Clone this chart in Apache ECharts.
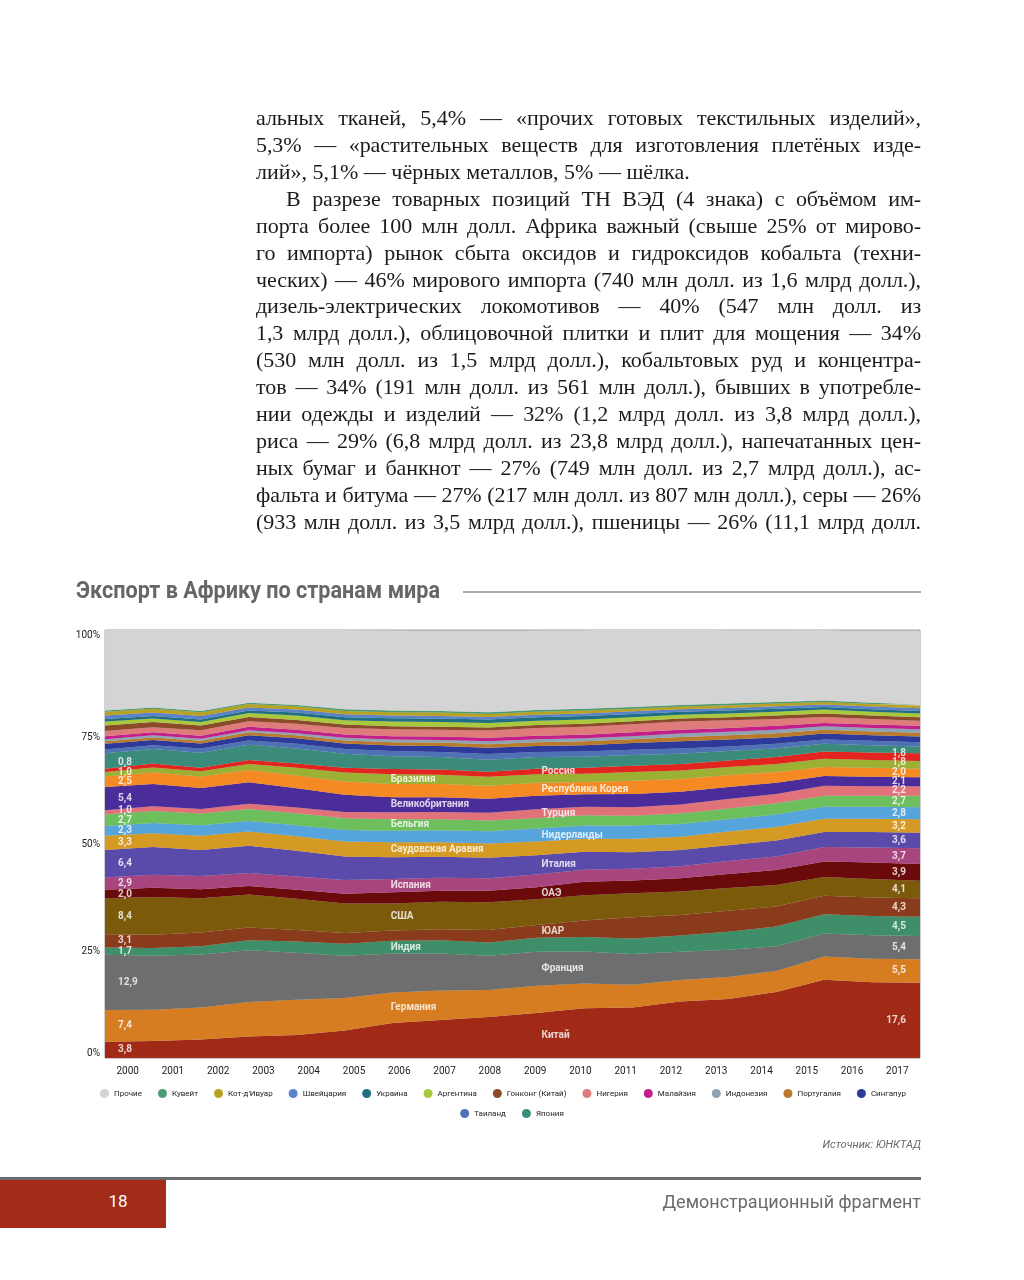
<!DOCTYPE html>
<html><head><meta charset="utf-8">
<script src="https://cdn.jsdelivr.net/npm/echarts@6/dist/echarts.min.js"></script>
<style>
html,body{margin:0;padding:0;background:#fff;}
#page{position:relative;width:1024px;height:1280px;overflow:hidden;background:#fff;}
#chart{position:absolute;left:0;top:0;width:1024px;height:1280px;}
.txt{position:absolute;left:256px;top:105px;width:665px;font-family:'Liberation Serif','DejaVu Serif',serif;font-size:22px;line-height:26.93px;color:#1b1b1b;z-index:2;}
.txt .j{text-align:justify;text-align-last:justify;height:26.93px;overflow:visible;}
.txt .l{text-align:left;height:26.93px;}
.txt .ind{padding-left:30px;}
.txt span{white-space:nowrap;}
#rule{position:absolute;left:0;top:1177px;width:921px;height:3px;background:#6b6b6b;z-index:2;}
#redbox{position:absolute;left:0;top:1180px;width:166px;height:48px;background:#a12b18;z-index:2;}
#pnum{position:absolute;left:103px;top:1191px;width:30px;text-align:center;font-family:Roboto,sans-serif;font-size:17px;color:#fff;z-index:3;}
#demo{position:absolute;right:103px;top:1191px;font-family:Roboto,sans-serif;font-size:18px;color:#6b6b6b;z-index:3;}
</style></head>
<body><div id="page">
<div id="chart"></div>
<div class="txt" id="txt">
<div class="j">альных тканей, 5,4% — «прочих готовых текстильных изделий»,</div>
<div class="j">5,3% — «растительных веществ для изготовления плетёных изде-</div>
<div class="l">лий», 5,1% — чёрных металлов, 5% — шёлка.</div>
<div class="j ind">В разрезе товарных позиций ТН ВЭД (4 знака) с объёмом им-</div>
<div class="j">порта более 100 млн долл. Африка важный (свыше 25% от мирово-</div>
<div class="j">го импорта) рынок сбыта оксидов и гидроксидов кобальта (техни-</div>
<div class="j">ческих) — 46% мирового импорта (740 млн долл. из 1,6 млрд долл.),</div>
<div class="j">дизель-электрических локомотивов — 40% (547 млн долл. из</div>
<div class="j">1,3 млрд долл.), облицовочной плитки и плит для мощения — 34%</div>
<div class="j">(530 млн долл. из 1,5 млрд долл.), кобальтовых руд и концентра-</div>
<div class="j">тов — 34% (191 млн долл. из 561 млн долл.), бывших в употребле-</div>
<div class="j">нии одежды и изделий — 32% (1,2 млрд долл. из 3,8 млрд долл.),</div>
<div class="j">риса — 29% (6,8 млрд долл. из 23,8 млрд долл.), напечатанных цен-</div>
<div class="j">ных бумаг и банкнот — 27% (749 млн долл. из 2,7 млрд долл.), ас-</div>
<div class="j">фальта и битума — 27% (217 млн долл. из 807 млн долл.), серы — 26%</div>
<div class="j">(933 млн долл. из 3,5 млрд долл.), пшеницы — 26% (11,1 млрд долл.</div>
</div>
<div id="rule"></div>
<div id="redbox"></div>
<div id="pnum">18</div>
<div id="demo">Демонстрационный фрагмент</div>
</div>
<script>
// fit each text line into the column width (tighten letter spacing if a line is too long)
(function(){
  const lines = document.querySelectorAll('#txt > div');
  lines.forEach(div => {
    const avail = div.clientWidth - (div.classList.contains('ind') ? 30 : 0);
    const span = document.createElement('span');
    span.textContent = div.textContent;
    div.textContent = '';
    div.appendChild(span);
    const w = span.getBoundingClientRect().width;
    const n = span.textContent.length;
    if (w > avail - 2) {
      div.style.letterSpacing = (-(w - avail + 4) / n).toFixed(3) + 'px';
    }
    div.textContent = span.textContent;
  });
})();

const years = ['2000','2001','2002','2003','2004','2005','2006','2007','2008','2009','2010','2011','2012','2013','2014','2015','2016','2017'];
const yTicks = [0,25,50,75,100];

const china       = [3.8,4.0,4.3,5.0,5.4,6.4,8.2,8.9,9.6,10.5,11.6,11.8,13.2,13.8,15.4,18.3,17.7,17.6];
const germany     = [7.4,7.3,7.5,8.1,8.2,7.6,7.1,6.9,6.3,6.4,5.8,5.3,5.0,5.1,4.9,5.4,5.5,5.5];
const france      = [12.9,12.6,12.4,12.1,11.0,9.9,9.1,8.6,8.0,7.9,7.5,7.2,6.6,6.4,5.8,5.4,5.5,5.4];
const india       = [1.7,1.8,1.9,2.3,2.6,2.8,3.0,3.1,3.1,3.3,3.4,3.6,3.8,4.2,4.6,4.5,4.5,4.5];
const southAfrica = [3.1,3.1,3.2,3.0,2.7,2.5,2.4,2.6,2.9,3.0,3.8,5.0,4.8,4.9,4.7,4.3,4.3,4.3];
const usa         = [8.4,8.8,8.0,7.7,7.3,6.9,6.3,6.4,6.5,6.0,5.9,5.6,5.5,5.3,5.0,4.4,4.3,4.1];
const uae         = [2.0,2.2,2.1,2.0,2.1,2.3,2.6,2.6,2.7,2.8,3.2,3.0,3.1,3.3,3.5,3.6,3.9,3.9];
const spain       = [2.9,3.0,3.1,3.0,3.1,3.2,3.1,3.0,2.9,3.0,2.8,2.7,2.8,3.0,3.2,3.4,3.5,3.7];
const italy       = [6.4,6.5,6.1,6.4,6.0,5.5,5.1,4.9,4.8,4.5,4.2,3.9,3.8,3.7,3.7,3.5,3.6,3.6];
const saudi       = [3.3,3.2,3.3,3.3,3.4,3.5,3.5,3.4,3.3,3.2,3.0,3.1,3.1,3.2,3.2,3.1,3.1,3.2];
const netherlands = [2.3,2.4,2.5,2.5,2.6,2.7,2.7,2.8,2.9,3.0,3.1,3.1,3.0,2.9,2.9,2.8,2.8,2.8];
const belgium     = [2.7,2.8,2.7,2.8,2.8,2.7,2.7,2.6,2.5,2.5,2.4,2.3,2.4,2.5,2.6,2.6,2.6,2.7];
const turkey      = [1.0,1.1,1.1,1.2,1.3,1.5,1.6,1.7,1.8,2.0,2.0,2.0,2.1,2.2,2.2,2.3,2.2,2.2];
const uk          = [5.4,5.2,4.9,5.0,4.5,4.0,3.5,3.4,3.3,3.2,2.9,3.1,3.0,2.8,2.6,2.3,2.2,2.1];
const korea       = [2.5,2.7,2.7,2.9,3.0,3.1,3.1,3.1,3.0,3.0,2.9,3.1,3.0,2.8,2.5,2.1,2.1,2.0];
const brazil      = [1.0,1.2,1.2,1.4,1.8,2.1,2.3,2.2,2.1,2.0,1.9,2.0,2.0,1.9,1.9,1.9,1.8,1.8];
const russia      = [0.8,0.9,0.8,0.9,1.0,1.1,1.2,1.2,1.2,1.3,1.4,1.5,1.5,1.5,1.6,1.7,1.8,1.8];
const japan       = [3.6,3.4,3.5,3.6,3.5,3.3,3.0,2.9,2.8,2.7,2.6,2.5,2.4,2.2,2.0,1.8,1.7,1.6];
const thailand    = [0.9,0.9,1.0,1.0,1.1,1.1,1.2,1.2,1.3,1.2,1.2,1.2,1.2,1.1,1.1,1.0,1.0,1.0];
const singapore   = [1.3,1.2,1.2,1.2,1.3,1.3,1.3,1.4,1.5,1.4,1.5,1.6,1.7,1.6,1.5,1.4,1.3,1.3];
const portugal    = [0.6,0.6,0.6,0.7,0.7,0.7,0.8,0.8,0.8,0.9,0.9,0.9,1.0,1.0,1.0,0.9,0.9,0.9];
const indonesia   = [0.5,0.5,0.5,0.5,0.5,0.6,0.6,0.6,0.7,0.7,0.7,0.7,0.8,0.8,0.8,0.8,0.8,0.8];
const malaysia    = [0.7,0.7,0.7,0.8,0.8,0.8,0.8,0.8,0.8,0.8,0.8,0.9,0.9,0.9,0.9,0.8,0.8,0.8];
const nigeria     = [1.2,1.2,1.3,1.3,1.4,1.5,1.6,1.6,1.7,1.8,1.9,1.9,1.9,1.8,1.6,1.4,1.3,1.2];
const hongKong    = [1.3,1.2,1.1,1.0,0.9,0.8,0.7,0.7,0.7,0.7,0.7,0.7,0.7,0.7,0.8,0.8,0.8,0.8];
const argentina   = [0.9,0.8,0.8,0.9,1.0,1.0,1.1,1.1,1.1,1.0,1.0,0.9,0.9,0.9,0.9,0.9,0.9,0.9];
const ukraine     = [0.6,0.6,0.6,0.6,0.7,0.7,0.8,0.8,0.8,0.8,0.8,0.8,0.7,0.7,0.7,0.6,0.6,0.6];
const switzerland = [0.8,0.8,0.8,0.7,0.7,0.7,0.6,0.6,0.6,0.6,0.6,0.6,0.6,0.6,0.6,0.6,0.6,0.6];
const coteDIvoire = [0.9,0.9,0.9,0.8,0.8,0.8,0.8,0.8,0.7,0.7,0.7,0.6,0.6,0.6,0.6,0.6,0.6,0.6];
const kuwait      = [0.3,0.3,0.3,0.3,0.3,0.4,0.4,0.4,0.4,0.4,0.4,0.4,0.4,0.4,0.4,0.3,0.3,0.3];
const others      = [18.9,18.5,18.9,17.0,17.5,18.5,18.6,18.6,18.6,18.5,18.3,18.7,17.9,17.1,16.7,16.5,16.4,17.0];

// bottom-to-top stacking order
const stackSeries = [
  ['Китай', china, '#a12a17'],
  ['Германия', germany, '#d67d22'],
  ['Франция', france, '#6e6e6e'],
  ['Индия', india, '#3e8e6a'],
  ['ЮАР', southAfrica, '#8a3b1b'],
  ['США', usa, '#7b5b0b'],
  ['ОАЭ', uae, '#6b0a0a'],
  ['Испания', spain, '#a8447e'],
  ['Италия', italy, '#5a4baa'],
  ['Саудовская Аравия', saudi, '#d59a24'],
  ['Нидерланды', netherlands, '#55a4dc'],
  ['Бельгия', belgium, '#6dbf5e'],
  ['Турция', turkey, '#e1727a'],
  ['Великобритания', uk, '#4a2c9a'],
  ['Республика Корея', korea, '#f58a24'],
  ['Бразилия', brazil, '#9cb033'],
  ['Россия', russia, '#e2261f'],
  ['Япония', japan, '#3a8b7a'],
  ['Таиланд', thailand, '#4f72b5'],
  ['Сингапур', singapore, '#2e3a9a'],
  ['Португалия', portugal, '#b97a2b'],
  ['Индонезия', indonesia, '#8ea3b3'],
  ['Малайзия', malaysia, '#c21f8b'],
  ['Нигерия', nigeria, '#e07b7b'],
  ['Гонконг (Китай)', hongKong, '#8b4a2a'],
  ['Аргентина', argentina, '#a9c83c'],
  ['Украина', ukraine, '#1f6f82'],
  ['Швейцария', switzerland, '#5c82c9'],
  ["Кот-д'Ивуар", coteDIvoire, '#b9a123'],
  ['Кувейт', kuwait, '#4c9c72'],
  ['Прочие', others, '#d4d4d4']
];
const labeledCount = 17;
const legendRow1 = ['Прочие','Кувейт',"Кот-д'Ивуар",'Швейцария','Украина','Аргентина','Гонконг (Китай)','Нигерия','Малайзия','Индонезия','Португалия','Сингапур'];
const legendRow2 = ['Таиланд','Япония'];
const leftNameIdx = [1,3,5,7,9,11,13,15];
const rightNameIdx = [0,2,4,6,8,10,12,14,16];
const leftNameYear = 6, rightNameYear = 9;
const minLabelGap = 2.2; // minimal vertical gap between stacked value labels, in axis units

function fmt(v){ return v.toFixed(1).replace('.', ','); }
function mid(k, t){ let s = 0; for (let j = 0; j < k; j++) s += stackSeries[j][1][t]; return s + stackSeries[k][1][t] / 2; }
// push labels upward so that they don't overlap (bottom to top)
function spread(t){
  const ys = []; let prev = -Infinity;
  for (let k = 0; k < labeledCount; k++) {
    let y = mid(k, t);
    if (y < prev + minLabelGap) y = prev + minLabelGap;
    ys.push(y); prev = y;
  }
  return ys;
}

const series = stackSeries.map(([name, data, color]) => ({
  name, type: 'line', stack: 'all', data, xAxisIndex: 0, yAxisIndex: 0,
  symbol: 'none', showSymbol: false, smooth: false,
  lineStyle: { width: 0 }, itemStyle: { color },
  areaStyle: { color, opacity: 1 }, z: 2, silent: true
}));

const lblFont = { color: '#fff', fontSize: 10, fontWeight: 'bold', fontFamily: 'Roboto, sans-serif' };
function labelSeries(items, pos, align){
  return { type: 'scatter', xAxisIndex: 0, yAxisIndex: 0, symbolSize: 0, silent: true, z: 10,
    data: items,
    label: Object.assign({ show: true, position: pos, align, verticalAlign: 'middle', formatter: '{b}' }, lblFont) };
}
const last = years.length - 1;
const leftY = spread(0), rightY = spread(last);
const leftVals = [], rightVals = [], leftNames = [], rightNames = [];
for (let k = 0; k < labeledCount; k++) {
  leftVals.push({ name: fmt(stackSeries[k][1][0]), value: [0, leftY[k]] });
  rightVals.push({ name: fmt(stackSeries[k][1][last]), value: [last, rightY[k]] });
}
leftNameIdx.forEach(k => leftNames.push({ name: stackSeries[k][0], value: [leftNameYear, mid(k, leftNameYear)] }));
rightNameIdx.forEach(k => rightNames.push({ name: stackSeries[k][0], value: [rightNameYear, mid(k, rightNameYear)] }));
series.push(labelSeries(leftVals, [13, 0], 'left'));
series.push(labelSeries(rightVals, [-14, 0], 'right'));
series.push(labelSeries(leftNames, [-2, 0], 'left'));
series.push(labelSeries(rightNames, [5, 0], 'left'));

const legendText = { fontSize: 8, color: '#222', fontFamily: 'Roboto, sans-serif' };
const chart = echarts.init(document.getElementById('chart'), null, { renderer: 'canvas' });
chart.setOption({
  animation: false,
  backgroundColor: 'transparent',
  graphic: [
    { type: 'text', x: 76, y: 592, scaleX: 0.9, style: { text: 'Экспорт в Африку по странам мира', fontSize: 24, fontWeight: 'bold', fill: '#676767', fontFamily: 'Roboto, sans-serif', verticalAlign: 'middle' } },
    { type: 'line', shape: { x1: 463, y1: 592, x2: 921, y2: 592 }, style: { stroke: '#aaaaaa', lineWidth: 2 } },
    { type: 'text', right: 103, top: 1140, style: { text: 'Источник: ЮНКТАД', fontSize: 11, fontStyle: 'italic', fill: '#6b6b6b', fontFamily: 'Roboto, sans-serif' } }
  ],
  grid: { left: 105, top: 630, width: 815, height: 428, show: true, backgroundColor: '#d4d4d4', borderColor: '#a0a0a0', borderWidth: 1, containLabel: false },
  legend: [
    { data: legendRow1, left: 95, top: 1084, icon: 'circle', itemWidth: 9, itemHeight: 9, itemGap: 16, textStyle: legendText, selectedMode: false },
    { data: legendRow2, left: 'center', top: 1104, icon: 'circle', itemWidth: 9, itemHeight: 9, itemGap: 16, textStyle: legendText, selectedMode: false }
  ],
  xAxis: [
    { type: 'category', data: years, boundaryGap: false, position: 'bottom', show: false, gridIndex: 0 },
    { type: 'category', data: years, boundaryGap: true, position: 'bottom', gridIndex: 0,
      axisLine: { show: false }, axisTick: { show: false },
      axisLabel: { fontSize: 10, color: '#222', margin: 8, fontFamily: 'Roboto, sans-serif' } }
  ],
  yAxis: { type: 'value', min: yTicks[0], max: yTicks[yTicks.length - 1], interval: 25,
    axisLine: { show: false }, axisTick: { show: false }, splitLine: { show: false },
    axisLabel: { formatter: '{value}%', fontSize: 10, color: '#222', margin: 5, fontFamily: 'Roboto, sans-serif',
      verticalAlignMaxLabel: 'top', verticalAlignMinLabel: 'bottom' } },
  series
});
</script>
</body></html>
